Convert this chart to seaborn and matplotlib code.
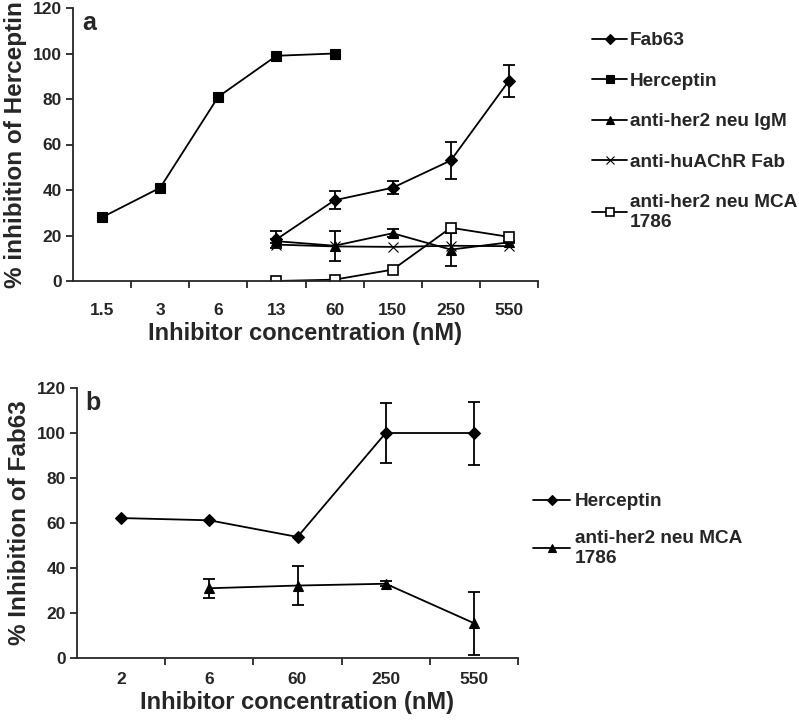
import numpy as np
import pandas as pd
import seaborn as sns
import matplotlib.pyplot as plt
from matplotlib.ticker import FixedLocator

sns.set_style('ticks')
plt.rcParams['font.family'] = ['Liberation Sans', 'DejaVu Sans']
plt.rcParams['font.weight'] = 'bold'
plt.rcParams['axes.labelweight'] = 'bold'

# panel a data
conc_a = ['1.5', '3', '6', '13', '60', '150', '250', '550']
fab63_a = [np.nan, np.nan, np.nan, 18.3, 35.5, 41, 53, 88]
fab63_a_err = [np.nan, np.nan, np.nan, 3.7, 4, 2.8, 8, 7]
herceptin_a = [28, 41, 81, 99, 100, np.nan, np.nan, np.nan]
igm_a = [np.nan, np.nan, np.nan, 17.5, 15.5, 21, 13.8, 17]
igm_a_err = [np.nan, np.nan, np.nan, 1, 6.5, 1.8, 7.3, 0.5]
huachr_a = [np.nan, np.nan, np.nan, 16, 15.2, 15, 15.5, 15.3]
mca_a = [np.nan, np.nan, np.nan, 0, 0.6, 5, 23.4, 19.4]

# panel b data
conc_b = ['2', '6', '60', '250', '550']
herceptin_b = [62.2, 61.2, 53.8, 100, 100]
herceptin_b_err = [np.nan, np.nan, np.nan, 13.5, 14]
mca_b = [np.nan, 31, 32.2, 33, 15.5]
mca_b_err = [np.nan, 4.2, 8.5, 1.1, 14]

fig = plt.figure(figsize=(7.99, 7.24), dpi=100)
ax1 = fig.add_axes([73 / 799, 1 - 281 / 724, 465 / 799, 273 / 724])
ax2 = fig.add_axes([77 / 799, 1 - 658 / 724, 441 / 799, 270 / 724])

lw = 1.3


def draw_series(ax, vals, err, name, marker, ms, face='black'):
    x = np.arange(len(vals))
    df = pd.DataFrame({'x': x, 'y': vals}).dropna()
    sns.lineplot(data=df, x='x', y='y', ax=ax, color='black', lw=lw,
                 marker=marker, markersize=ms, markerfacecolor=face,
                 markeredgecolor='black', markeredgewidth=1.2 if face == 'white' else 0.8,
                 label=name)
    if err is not None:
        ax.errorbar(x, vals, yerr=err, fmt='none', ecolor='black',
                    elinewidth=1.3, capsize=4, capthick=1.3, zorder=1)


draw_series(ax1, fab63_a, fab63_a_err, 'Fab63', 'D', 6.5)
draw_series(ax1, herceptin_a, None, 'Herceptin', 's', 7)
draw_series(ax1, igm_a, igm_a_err, 'anti-her2 neu IgM', '^', 7)
draw_series(ax1, huachr_a, None, 'anti-huAChR Fab', 'x', 7)
draw_series(ax1, mca_a, None, 'anti-her2 neu MCA\n1786', 's', 7, face='white')

draw_series(ax2, herceptin_b, herceptin_b_err, 'Herceptin', 'D', 6.5)
draw_series(ax2, mca_b, mca_b_err, 'anti-her2 neu MCA\n1786', '^', 7.5)

for ax, cats, letter, ylab, pad in [
        (ax1, conc_a, 'a', '% inhibition of Herceptin', 16),
        (ax2, conc_b, 'b', '% Inhibition of Fab63', 10)]:
    n = len(cats)
    ax.set_xlim(-0.5, n - 0.5)
    ax.set_ylim(0, 120)
    ax.set_yticks(range(0, 121, 20))
    ax.set_xticks(range(n))
    ax.set_xticklabels(cats)
    ax.xaxis.set_minor_locator(FixedLocator(np.arange(0.5, n, 1)))
    ax.tick_params(axis='x', which='major', length=0, pad=pad, labelsize=12.5)
    ax.tick_params(axis='x', which='minor', length=5, width=1.3, direction='out')
    ax.tick_params(axis='y', length=5, width=1.3, direction='out', labelsize=12.5, pad=3)
    for s in ['left', 'bottom']:
        ax.spines[s].set_linewidth(1.3)
    sns.despine(ax=ax)
    ax.set_xlabel('Inhibitor concentration (nM)', fontsize=17, labelpad=3)
    ax.set_ylabel(ylab, fontsize=17.5, labelpad=4)
    ax.text(0.02, 0.99, letter, transform=ax.transAxes, fontsize=18,
            fontweight='bold', va='top', ha='left')
    ax.get_legend().remove()

h1, l1 = ax1.get_legend_handles_labels()
fig.legend(h1, l1, loc='upper left', bbox_to_anchor=(592 / 799, 1 - 32 / 724),
           frameon=False, fontsize=13.7, labelspacing=1.22, handlelength=1.85,
           handletextpad=0.15, borderpad=0, borderaxespad=0, markerscale=0.85)
h2, l2 = ax2.get_legend_handles_labels()
fig.legend(h2, l2, loc='upper left', bbox_to_anchor=(533 / 799, 1 - 493 / 724),
           frameon=False, fontsize=13.7, labelspacing=1.05, handlelength=1.95,
           handletextpad=0.25, borderpad=0, borderaxespad=0, markerscale=0.85)

fig.savefig('out.png', dpi=100)
